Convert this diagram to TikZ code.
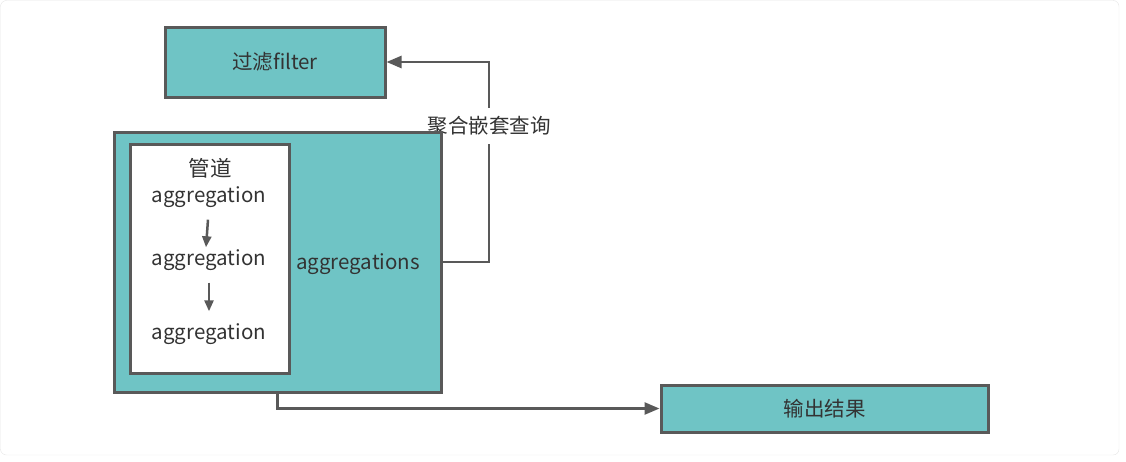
\documentclass[tikz,border=0pt]{standalone}
\usepackage{fontspec}
\setmainfont{Noto Sans CJK SC}
\usetikzlibrary{arrows.meta}
\usetikzlibrary{backgrounds}
\definecolor{boxfill}{HTML}{6FC4C5}
\definecolor{boxline}{HTML}{595959}

\begin{document}
\begin{tikzpicture}[x=1pt,y=-1pt,
      box/.style={draw=boxline,line width=3pt,fill=boxfill,inner sep=0pt},
      link/.style={draw=boxline,line width=2.5pt,-{Triangle[length=15pt,width=12pt]}},
      step link/.style={draw=boxline,line width=2.5pt,-{Triangle[length=11pt,width=9pt]}},
      label/.style={font=\fontsize{20.5}{24}\selectfont,text=black!80,inner sep=0pt},
      ]
      \useasboundingbox (0,0) rectangle (1126,461);
      \draw[black!10,rounded corners=6pt] (0.5,0.5) rectangle (1119,455);
      % boxes
      \node[box,minimum width=220,minimum height=70,label] (filter) at (275,62) {过滤filter};
      \node[box,minimum width=327,minimum height=260] (aggs) at (277.5,262) {};
      \node[box,fill=white,minimum width=159,minimum height=229] (pipe) at (209.5,258.5) {};
      \node[box,minimum width=327,minimum height=47,label] (output) at (824.5,408.5) {输出结果};
      % texts
      \node[label] (aggstext) at (358,264) {aggregations};
      \node[label,font=\fontsize{21.5}{24}\selectfont] (pipetitle) at (210,168) {管道};
      \node[label] (agg1) at (209,197) {aggregation};
      \node[label] (agg2) at (209,260) {aggregation};
      \node[label] (agg3) at (209,334) {aggregation};
      % connectors
      \draw[step link] ([xshift=-1pt,yshift=-12pt]agg1.south) -- ([xshift=-3pt,yshift=2pt]agg2.north);
      \draw[step link] ([yshift=-12pt]agg2.south) -- ([yshift=12pt]agg3.north);
      \begin{pgfonlayer}{background}
        \coordinate (turn) at (489,262);
        \draw[link] (aggs.east) -- (turn) |- (filter.east);
        \node[label,fill=white,inner xsep=2pt,inner ysep=8pt] (nested) at (489,126) {聚合嵌套查询};
      \end{pgfonlayer}
      \draw[link] (aggs.south) |- (output.west);
\end{tikzpicture}
\end{document}
